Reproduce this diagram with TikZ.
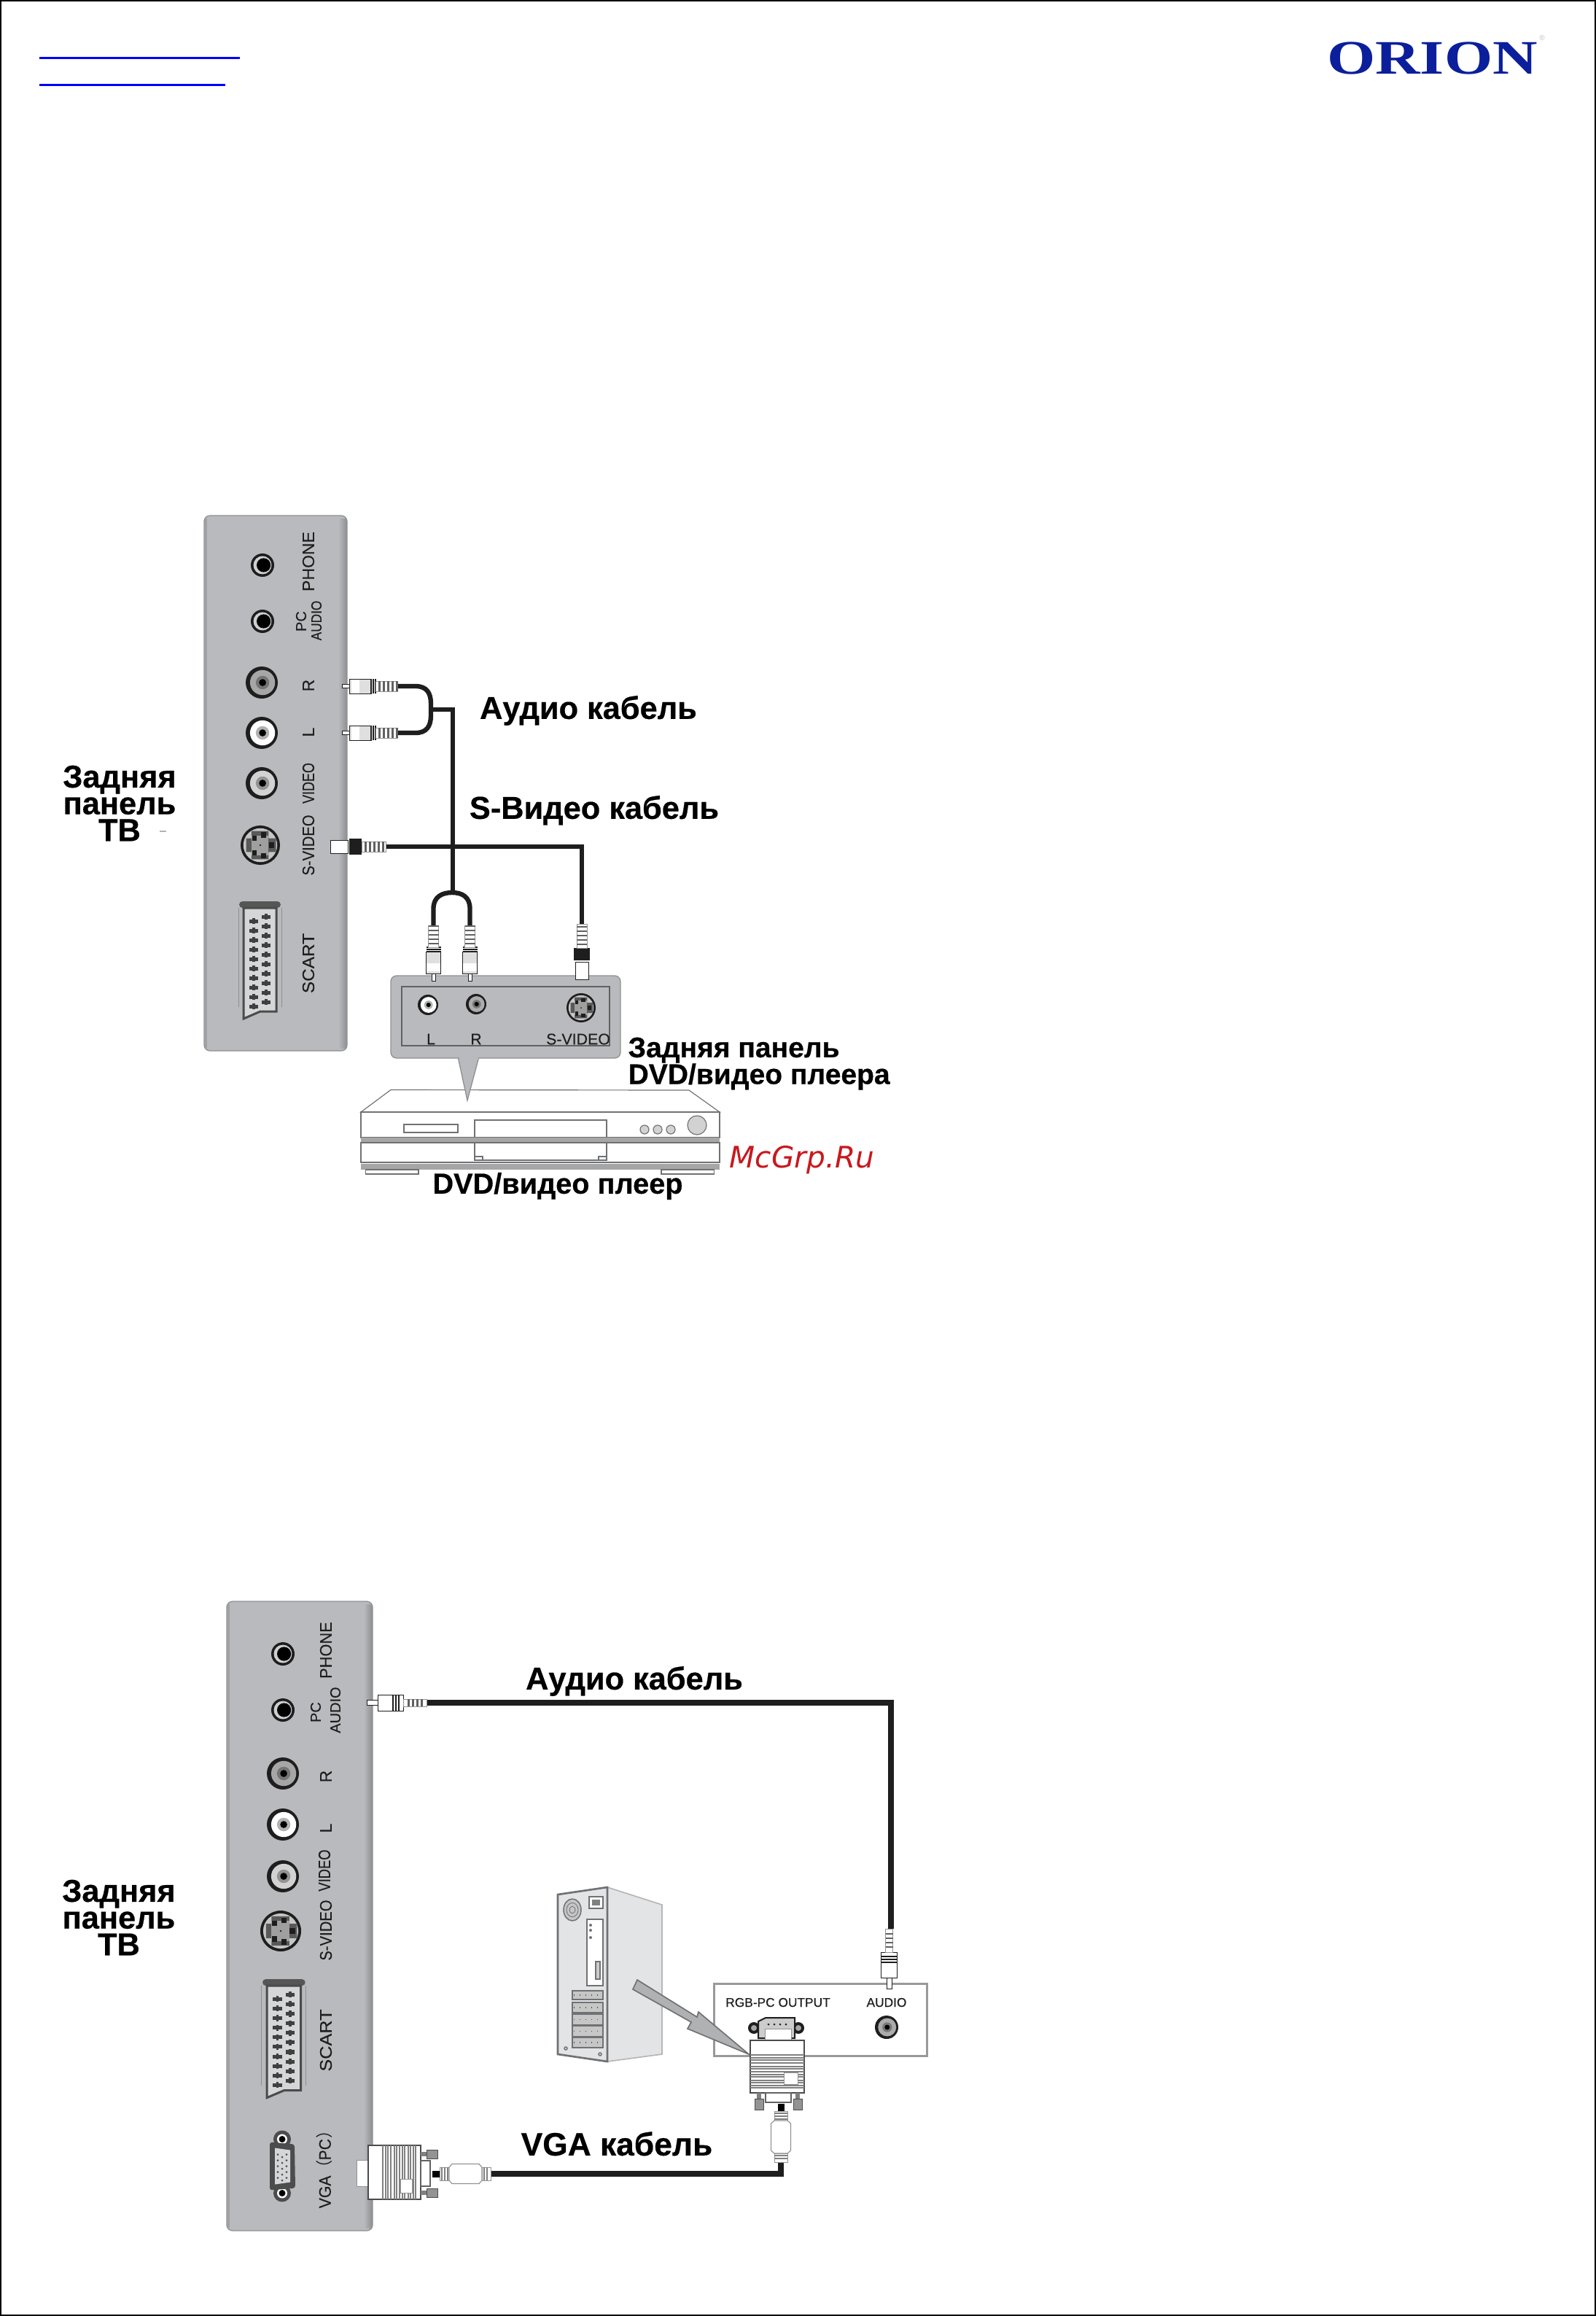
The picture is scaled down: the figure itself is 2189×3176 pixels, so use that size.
\documentclass[tikz,border=0pt]{standalone}
\usepackage{graphicx}
\usepackage{fontspec}
\setmainfont{Liberation Sans}[BoldFeatures={FakeBold=0.5}]
\newfontfamily\semifont[FakeBold=0.25]{Liberation Sans}
\newfontfamily\mcfont{DejaVu Sans}
\newfontfamily\logofont{Liberation Serif}
\newfontfamily\parenfont{Noto Sans CJK SC}
\newcommand\fsz[1]{\fontsize{#1}{#1}\selectfont}
\definecolor{panelgrey}{HTML}{B9BABD}
\definecolor{paneledge}{HTML}{8F9093}
\definecolor{inkdark}{HTML}{1E1E1E}
\definecolor{logoblue}{HTML}{0B1F9C}
\definecolor{mcred}{HTML}{C8191E}
\definecolor{towerface}{HTML}{E3E4E5}
\definecolor{toweredge}{HTML}{707174}
\definecolor{arrowgrey}{HTML}{B0B1B3}
\tikzset{
  panelbox/.style={fill=panelgrey,draw=paneledge,line width=0.4pt,rounded corners=2.4pt},
  cable/.style={draw=inkdark,line width=1.9pt,line cap=butt,line join=miter},
  thickcable/.style={cable,line width=2.35pt},
  portlabel/.style={inner sep=0pt,text=inkdark,font=\semifont\fsz{6.9}},
  smalllabel/.style={inner sep=0pt,text=inkdark,font=\semifont\fsz{6}},
  boxlabel/.style={inner sep=0pt,text=inkdark,font=\semifont\fsz{6.4}},
  avlabel/.style={inner sep=0pt,text=inkdark,font=\semifont\fsz{5.2}},
  biglabel/.style={inner sep=0pt,text=black,font=\fsz{13}\bfseries,anchor=mid},
  stacklabel/.style={inner sep=0pt,text=black,font=\fsz{13}\bfseries,align=center},
  midlabel/.style={inner sep=0pt,text=black,font=\fsz{11.7}\bfseries,align=left,anchor=north west},
  ribpart/.style={fill=white,draw=inkdark,line width=0.25pt},
  softpart/.style={fill=white,draw=gray!85,line width=0.3pt},
  thinline/.style={draw=toweredge,line width=0.45pt},
  dvdline/.style={draw=toweredge,line width=0.35pt}
}
% TV rear panel with a darker right edge
\newcommand\tvpanel[4]{
  \draw[panelbox] (#1,#2) rectangle (#3,#4);
  \shade[left color=panelgrey,right color=paneledge] ({#3-12},{#2+4}) rectangle ({#3-0.6},{#4-4});
  \fill[paneledge!60!panelgrey] ({#1+0.6},{#2+4}) rectangle ({#1+4},{#4-4});
}
% RCA jack
\newcommand\rcajack[4]{\begin{scope}[shift={(#1,#2)},scale=#3]
  \colorlet{jackring}{#4}
  \fill[inkdark] (0,0) circle [radius=1];
  \fill[jackring] (0.05,0) circle [radius=0.78];
  \fill[jackring!70!black] (0.05,0) circle [radius=0.42];
  \fill[black] (0.05,0) circle [radius=0.22];
\end{scope}}
% phone jack
\newcommand\phonejack[3]{\begin{scope}[shift={(#1,#2)},scale=#3]
  \fill[inkdark] (0,0) circle [radius=1];
  \fill[panelgrey!70!white] (0,0) circle [radius=0.78];
  \fill[black] (0.1,0) circle [radius=0.6];
\end{scope}}
% S-video jack
\newcommand\svideojack[3]{\begin{scope}[shift={(#1,#2)},scale=#3]
  \fill[inkdark] (0,0) circle [radius=1];
  \fill[gray!45] (0,0) circle [radius=0.86];
  \fill[gray!70!black] (-0.72,-0.35) -- (-0.45,-0.35) -- (-0.45,-0.72) -- (0.42,-0.72) -- (0.42,-0.35) -- (0.8,-0.35) -- (0.8,0.35) -- (0.42,0.35) -- (0.42,0.72) -- (-0.45,0.72) -- (-0.45,0.35) -- (-0.72,0.35) -- cycle;
  \fill[gray!75] (-0.45,-0.5) rectangle (0.42,0.5);
  \fill[inkdark] (-0.42,-0.5) rectangle (-0.18,-0.24);
  \fill[inkdark] (0.02,-0.65) rectangle (0.28,-0.38);
  \fill[inkdark] (0.44,-0.14) rectangle (0.7,0.14);
  \fill[inkdark] (-0.42,0.26) rectangle (-0.18,0.53);
  \fill[inkdark] (0.02,0.4) rectangle (0.28,0.67);
  \fill[inkdark] (0,0) circle [radius=0.05];
\end{scope}}
% SCART socket, local 57 x 160
\newcommand\scartport[4]{\begin{scope}[shift={(#1,#2)},xscale=#3,yscale=#4]
  \draw[paneledge,line width=0.3pt] (-1,6) -- (-1,142) (58,6) -- (58,142);
  \fill[inkdark!75,rounded corners=1.4pt] (0,6) -- (0,-3) -- (57,-3) -- (57,6) -- cycle;
  \filldraw[fill=panelgrey!60!white,draw=inkdark!80,line width=0.9pt] (6,6) -- (51,6) -- (51,148) -- (29,148) -- (6,158) -- cycle;
  \foreach \r in {0,...,9}{
    \foreach \cx/\cy in {20/24,37/18}{
      \fill[inkdark!85] ({\cx-6},{\cy+13*\r-2.5}) rectangle ({\cx+6},{\cy+13*\r+2.5});
      \fill[inkdark!85] ({\cx-1.7},{\cy+13*\r-4}) rectangle ({\cx+1.7},{\cy+13*\r+4});
    }
  }
\end{scope}}
% VGA port on the set
\newcommand\vgaport[2]{\begin{scope}[shift={(#1,#2)}]
  \foreach \s in {-1,1}{
    \fill[gray!60!black] (0,{\s*37}) circle [radius=12];
    \fill[white] (0,{\s*37}) circle [radius=7];
    \fill[black] (0,{\s*37}) circle [radius=4.5];
  }
  \fill[gray!60!black,rounded corners=1pt] (-17,-33) -- (17,-30) -- (18,30) -- (-17,33) -- cycle;
  \fill[panelgrey!60!white] (-10,-25) -- (11,-22) -- (11,22) -- (-10,25) -- cycle;
  \foreach \c/\o in {-6/0,0/3.5,6/0}{\foreach \r in {-16,-8,0,8,16}{\fill[inkdark!80] (\c,{\r+\o}) circle [radius=1.5];}}
\end{scope}}
% RCA plug: origin at the tip, body running along +x
\newcommand\rcaplug[3]{\begin{scope}[shift={(#1,#2)},rotate=#3]
  \filldraw[fill=white,draw=inkdark,line width=0.25pt] (0,-2.5) rectangle (10,2.5);
  \filldraw[fill=gray!25,draw=inkdark,line width=0.25pt] (10,-10) rectangle (40,10);
  \fill[white] (13,-9.5) rectangle (24,9.5);
  \foreach \p in {40,43,46}{\draw[inkdark,line width=0.35pt] (\p,-10) -- (\p,10);}
  \filldraw[softpart] (46,-7) rectangle (76,7);
  \foreach \p in {50,56,...,75}{\fill[inkdark!70] (\p,-7) rectangle ({\p+2.5},7);}
\end{scope}}
% S-video plug
\newcommand\svplug[3]{\begin{scope}[shift={(#1,#2)},rotate=#3]
  \filldraw[fill=white,draw=inkdark,line width=0.25pt] (0,-9) rectangle (24,9);
  \fill[inkdark] (26,-11) rectangle (43,11);
  \filldraw[softpart] (43,-7) rectangle (76,7);
  \foreach \p in {47,53,...,75}{\fill[inkdark!70] (\p,-7) rectangle ({\p+2.5},7);}
\end{scope}}
% mini-jack plug
\newcommand\miniplug[3]{\begin{scope}[shift={(#1,#2)},rotate=#3]
  \filldraw[fill=white,draw=inkdark,line width=0.25pt] (0,-3.5) rectangle (15,3.5);
  \filldraw[fill=white,draw=inkdark,line width=0.3pt] (15,-11) rectangle (50,11);
  \foreach \p in {36,40,44}{\draw[inkdark,line width=0.5pt] (\p,-11) -- (\p,11);}
  \filldraw[softpart] (50,-5) rectangle (82,5);
  \foreach \p in {56,62,68,74}{\fill[inkdark!70] (\p,-5) rectangle ({\p+2.5},5);}
\end{scope}}
% VGA plug; local: front up at y<0, body y 0..70; #3 rotate, #4 mirror
\newcommand\vgaplug[4]{\begin{scope}[shift={(#1,#2)},rotate=#3,xscale=#4]
  \filldraw[fill=white,draw=gray!85,line width=0.3pt] (-17,-16) rectangle (19,0);
  \filldraw[fill=white,draw=inkdark!80,line width=0.35pt] (-37,0) rectangle (37,72);
  \foreach \p in {20,24,27,31,36,39,43,47,50,55,58,62,65}{\draw[gray,line width=0.4pt] (-37,\p) -- (37,\p);}
  \fill[white] (9,44) rectangle (28,60);
  \draw[gray!85,line width=0.3pt] (9,44) rectangle (28,60);
  \filldraw[fill=white,draw=inkdark!70,line width=0.35pt] (-16,72) rectangle (19,85);
  \foreach \a/\b in {-31/-19,22/34}{
    \fill[gray] ({\a+3},72) rectangle ({\b-3},80);
    \filldraw[fill=gray!85,draw=gray!60!black,line width=0.3pt] (\a,80) rectangle (\b,95);
  }
\end{scope}}
\newcommand\vgatail[3]{\begin{scope}[shift={(#1,#2)},rotate=#3]
  \fill[black] (-4.5,0) rectangle (4.5,10);
  \filldraw[softpart] (-9,10) rectangle (9,23);
  \foreach \p in {13,17,21}{\draw[gray,line width=0.5pt] (-9,\p) -- (9,\p);}
  \filldraw[fill=white,draw=gray!85,line width=0.35pt] (-9,23) -- (-13.5,27) -- (-13.5,64) -- (-9,68) -- (9,68) -- (13.5,64) -- (13.5,27) -- (9,23) -- cycle;
  \filldraw[softpart] (-9,68) rectangle (9,80);
  \foreach \p in {71,75}{\draw[gray,line width=0.5pt] (-9,\p) -- (9,\p);}
\end{scope}}
\begin{document}
\begin{tikzpicture}[x=0.3pt,y=-0.3pt]
\useasboundingbox (0,0) rectangle (2189,3176);
\fill[white] (0,0) rectangle (2189,3176);
\draw[black,line width=0.6pt] (1,1) rectangle (2188,3175);
% header
\draw[blue,line width=0.9pt] (54,79.5) -- (329,79.5);
\draw[blue,line width=0.9pt] (54,116.5) -- (309,116.5);
\node[inner sep=0pt,anchor=mid,text=logoblue,font=\logofont\fsz{19.8}\bfseries] (logo) at (1964.5,93) {\scalebox{1.29}[1]{ORION}};
\node[inner sep=0pt,text=black!25,font=\fsz{3}] (logoreg) at (2115,52) {®};

% ===== first diagram =====
\tvpanel{280}{707}{476}{1441}
\phonejack{360}{775}{16}
\phonejack{360}{852}{16}
\rcajack{359}{936}{22}{gray!70}
\rcajack{359}{1005}{22}{white}
\rcajack{359}{1074}{22}{gray!35}
\svideojack{357}{1159}{27}
\scartport{328}{1239}{1}{1}
\node[portlabel,rotate=90] (p1a) at (423,770) {PHONE};
\node[smalllabel,rotate=90] (p1b) at (413,852) {PC};
\node[smalllabel,rotate=90] (p1c) at (434,851) {\scalebox{0.86}[1]{AUDIO}};
\node[portlabel,rotate=90] (p1d) at (423,940) {R};
\node[portlabel,rotate=90] (p1e) at (423,1004) {L};
\node[portlabel,rotate=90] (p1f) at (423,1074) {\scalebox{0.78}[1]{VIDEO}};
\node[portlabel,rotate=90] (p1g) at (423,1159) {\scalebox{0.88}[1]{S-VIDEO}};
\node[portlabel,rotate=90] (p1h) at (423,1321) {\scalebox{1.06}[1]{SCART}};
\fill[gray!60] (219,1139) rectangle (228,1141);
% DVD player
\draw[dvdline,fill=white] (495,1525) -- (536,1494.5) -- (945,1495) -- (987,1525) -- cycle;
\draw[dvdline,fill=white] (495,1525) rectangle (987,1560);
\fill[gray!70] (495,1560) rectangle (987,1567);
\draw[dvdline,fill=white] (495,1567) rectangle (987,1594);
\fill[gray!70] (495,1596) rectangle (987,1604);
\draw[dvdline,fill=white] (554,1542) rectangle (628,1553);
\draw[dvdline] (651,1560) -- (651,1536) -- (832,1536) -- (832,1560);
\draw[dvdline] (651,1567) -- (651,1591) -- (832,1591) -- (832,1567);
\draw[dvdline] (651,1586) -- (662,1586) -- (662,1591) (832,1586) -- (821,1586) -- (821,1591);
\draw[dvdline,fill=white] (501.5,1604) rectangle (574,1610);
\draw[dvdline,fill=white] (907,1604) rectangle (979.5,1610);
\foreach \b in {884,902,920}{\draw[dvdline,fill=gray!35] (\b,1549) circle [radius=6];}
\draw[dvdline,fill=gray!35] (956,1543) circle [radius=13];
% bubble
\filldraw[fill=panelgrey,draw=paneledge,line width=0.4pt] (628,1449) -- (641,1509) -- (657,1449) -- cycle;
\draw[panelbox] (536,1338) rectangle (851,1451);
\fill[panelgrey] (629.5,1448) rectangle (655.5,1453);
\draw[inkdark!70,line width=0.5pt] (551,1353) rectangle (836,1434);
\rcajack{587}{1378}{14}{white}
\rcajack{653}{1377}{14}{gray!65}
\svideojack{797}{1382}{20}
\node[boxlabel] (b1) at (591,1425) {L};
\node[boxlabel] (b2) at (653,1425) {R};
\node[boxlabel] (b3) at (793,1425) {S-VIDEO};
% cables
\coordinate (audR) at (546,941);
\coordinate (audL) at (546,1005);
\coordinate (dvdL) at (594.5,1270);
\coordinate (dvdR) at (644.5,1270);
\coordinate (svA) at (530,1161);
\coordinate (svB) at (798,1268);
\draw[cable] (audR) -- ++(24,0) .. controls (585,941) and (591,950) .. (591,965) -- (591,981) .. controls (591,996) and (585,1005) .. (570,1005) -- (audL);
\draw[cable] (591,973) -- (621,973) -- (621,1224);
\draw[cable] (dvdL) -- (594.5,1246) .. controls (594.5,1230) and (606,1224) .. (620,1224) .. controls (634,1224) and (644.5,1230) .. (644.5,1246) -- (dvdR);
\draw[cable] (svA) -- (798,1161) -- (svB);
\rcaplug{469}{941}{0}
\rcaplug{469}{1005}{0}
\svplug{453}{1161}{0}
\rcaplug{594.5}{1345}{90}
\rcaplug{644.5}{1345}{90}
\svplug{798}{1343}{90}
% labels
\node[biglabel] (l1) at (807,977) {Аудио кабель};
\node[biglabel] (l2) at (815,1114) {S-Видео кабель};
\node[midlabel] (l3) at (861,1422) {Задняя панель\\[-0.7pt]DVD/видео плеера};
\node[biglabel,font=\fsz{11.9}\bfseries] (l5) at (765,1628) {DVD/видео плеер};
\node[inner sep=0pt,anchor=mid,text=mcred,font=\mcfont\fsz{12.2}\itshape] (mc) at (1100,1593) {McGrp.Ru};
\node[stacklabel] (l6) at (164,1101.5) {Задняя\\[-2pt]панель\\[-2pt]ТВ};

% ===== second diagram =====
\tvpanel{311}{2196}{511}{3059}
\phonejack{388}{2268}{16}
\phonejack{388}{2345}{16}
\rcajack{388}{2432}{22}{gray!70}
\rcajack{388}{2502}{22}{white}
\rcajack{388}{2573}{22}{gray!35}
\svideojack{385}{2648}{28}
\scartport{360}{2717}{1.03}{1.01}
\vgaport{387}{2970.5}
\node[portlabel,rotate=90] (p2a) at (447,2263) {\scalebox{0.95}[1]{PHONE}};
\node[smalllabel,rotate=90] (p2b) at (433,2348) {PC};
\node[smalllabel,rotate=90] (p2c) at (460,2345) {AUDIO};
\node[portlabel,rotate=90] (p2d) at (447,2436) {R};
\node[portlabel,rotate=90] (p2e) at (447,2507) {L};
\node[portlabel,rotate=90] (p2f) at (445,2565) {\scalebox{0.8}[1]{VIDEO}};
\node[portlabel,rotate=90] (p2g) at (447,2647) {\scalebox{0.88}[1]{S-VIDEO}};
\node[portlabel,rotate=90] (p2h) at (447,2798) {\scalebox{1.1}[1]{SCART}};
\node[portlabel,rotate=90] (p2i) at (445,2970) {\scalebox{0.92}[1]{VGA{\parenfont（}PC{\parenfont）}}};
% PC tower
\filldraw[fill=towerface,draw=towerface!80!black,line width=0.5pt] (833,2588) -- (908,2612) -- (908,2817) -- (833,2827) -- cycle;
\filldraw[fill=towerface,draw=toweredge,line width=0.8pt] (765,2598) -- (833,2588) -- (833,2827) -- (765,2817) -- cycle;
\draw[thinline,fill=gray!45] (785,2619) circle [x radius=12,y radius=15];
\foreach \d in {4,8}{\draw[toweredge,line width=0.25pt] (785,2619) circle [x radius=\d,y radius={\d*1.2}];}
\draw[thinline,fill=white] (808,2601) rectangle (827,2617);
\fill[gray] (812,2605) rectangle (823,2613);
\draw[thinline,fill=white] (805,2632) rectangle (827,2723);
\foreach \d in {2640,2647,2657}{\fill[toweredge] (810,\d) circle [radius=2];}
\draw[thinline,fill=gray!40] (817,2690) rectangle (823,2714);
\foreach \a/\b in {2730/2742,2746/2760,2762/2777,2778/2793,2794/2808}{
  \draw[thinline,fill=gray!45] (785,\a) rectangle (827,\b);
  \draw[toweredge!70!black,line width=0.4pt,dotted] (787,{(\a+\b)/2}) -- (825,{(\a+\b)/2});
}
\draw[thinline] (776,2809) circle [radius=2];
\draw[thinline] (823,2817) circle [radius=2];
% AV box
\draw[draw=gray!80,line width=0.9pt,fill=white] (979,2720) rectangle (1271,2819);
\node[avlabel] (b4) at (1067,2746) {RGB-PC OUTPUT};
\node[avlabel] (b5) at (1216,2746) {AUDIO};
\rcajack{1216}{2780}{16}{gray!65}
% VGA socket on the box
\fill[inkdark] (1034,2781) circle [radius=8] (1095,2781) circle [radius=8];
\fill[gray!70] (1034,2781) circle [radius=4] (1095,2781) circle [radius=4];
\filldraw[fill=gray!40,draw=inkdark,line width=0.6pt] (1040,2772) -- (1050,2767) -- (1090,2767) -- (1090,2795) -- (1040,2795) -- cycle;
\foreach \p in {1054,1062,1070,1078}{\fill[inkdark] (\p,2776) circle [radius=1.5];}
% arrow
\filldraw[fill=arrowgrey,draw=toweredge,line width=0.5pt] (874,2715) -- (956,2766) -- (958,2759) -- (1027,2817) -- (943,2782) -- (948,2773) -- (868,2728) -- cycle;
\vgaplug{1066}{2798}{0}{1}
\vgaplug{505}{2979}{90}{-1}
% cables
\coordinate (pcA) at (581,2335);
\coordinate (pcB) at (1222,2645);
\coordinate (vgaA) at (673,2981);
\coordinate (vgaB) at (1071,2965);
\draw[thickcable] (pcA) -- (1222,2335) -- (pcB);
\draw[thickcable] (vgaA) -- (1071,2981) -- (vgaB);
\miniplug{503}{2335}{0}
\miniplug{1219.5}{2727}{90}
\vgatail{1071}{2885}{0}
\vgatail{593}{2981}{90}
% labels
\node[biglabel] (l9) at (870,2308) {Аудио кабель};
\node[biglabel,font=\fsz{13.3}\bfseries] (l10) at (846,2947) {VGA кабель};
\node[stacklabel] (l11) at (163,2629.5) {Задняя\\[-2pt]панель\\[-2pt]ТВ};
\end{tikzpicture}
\end{document}
